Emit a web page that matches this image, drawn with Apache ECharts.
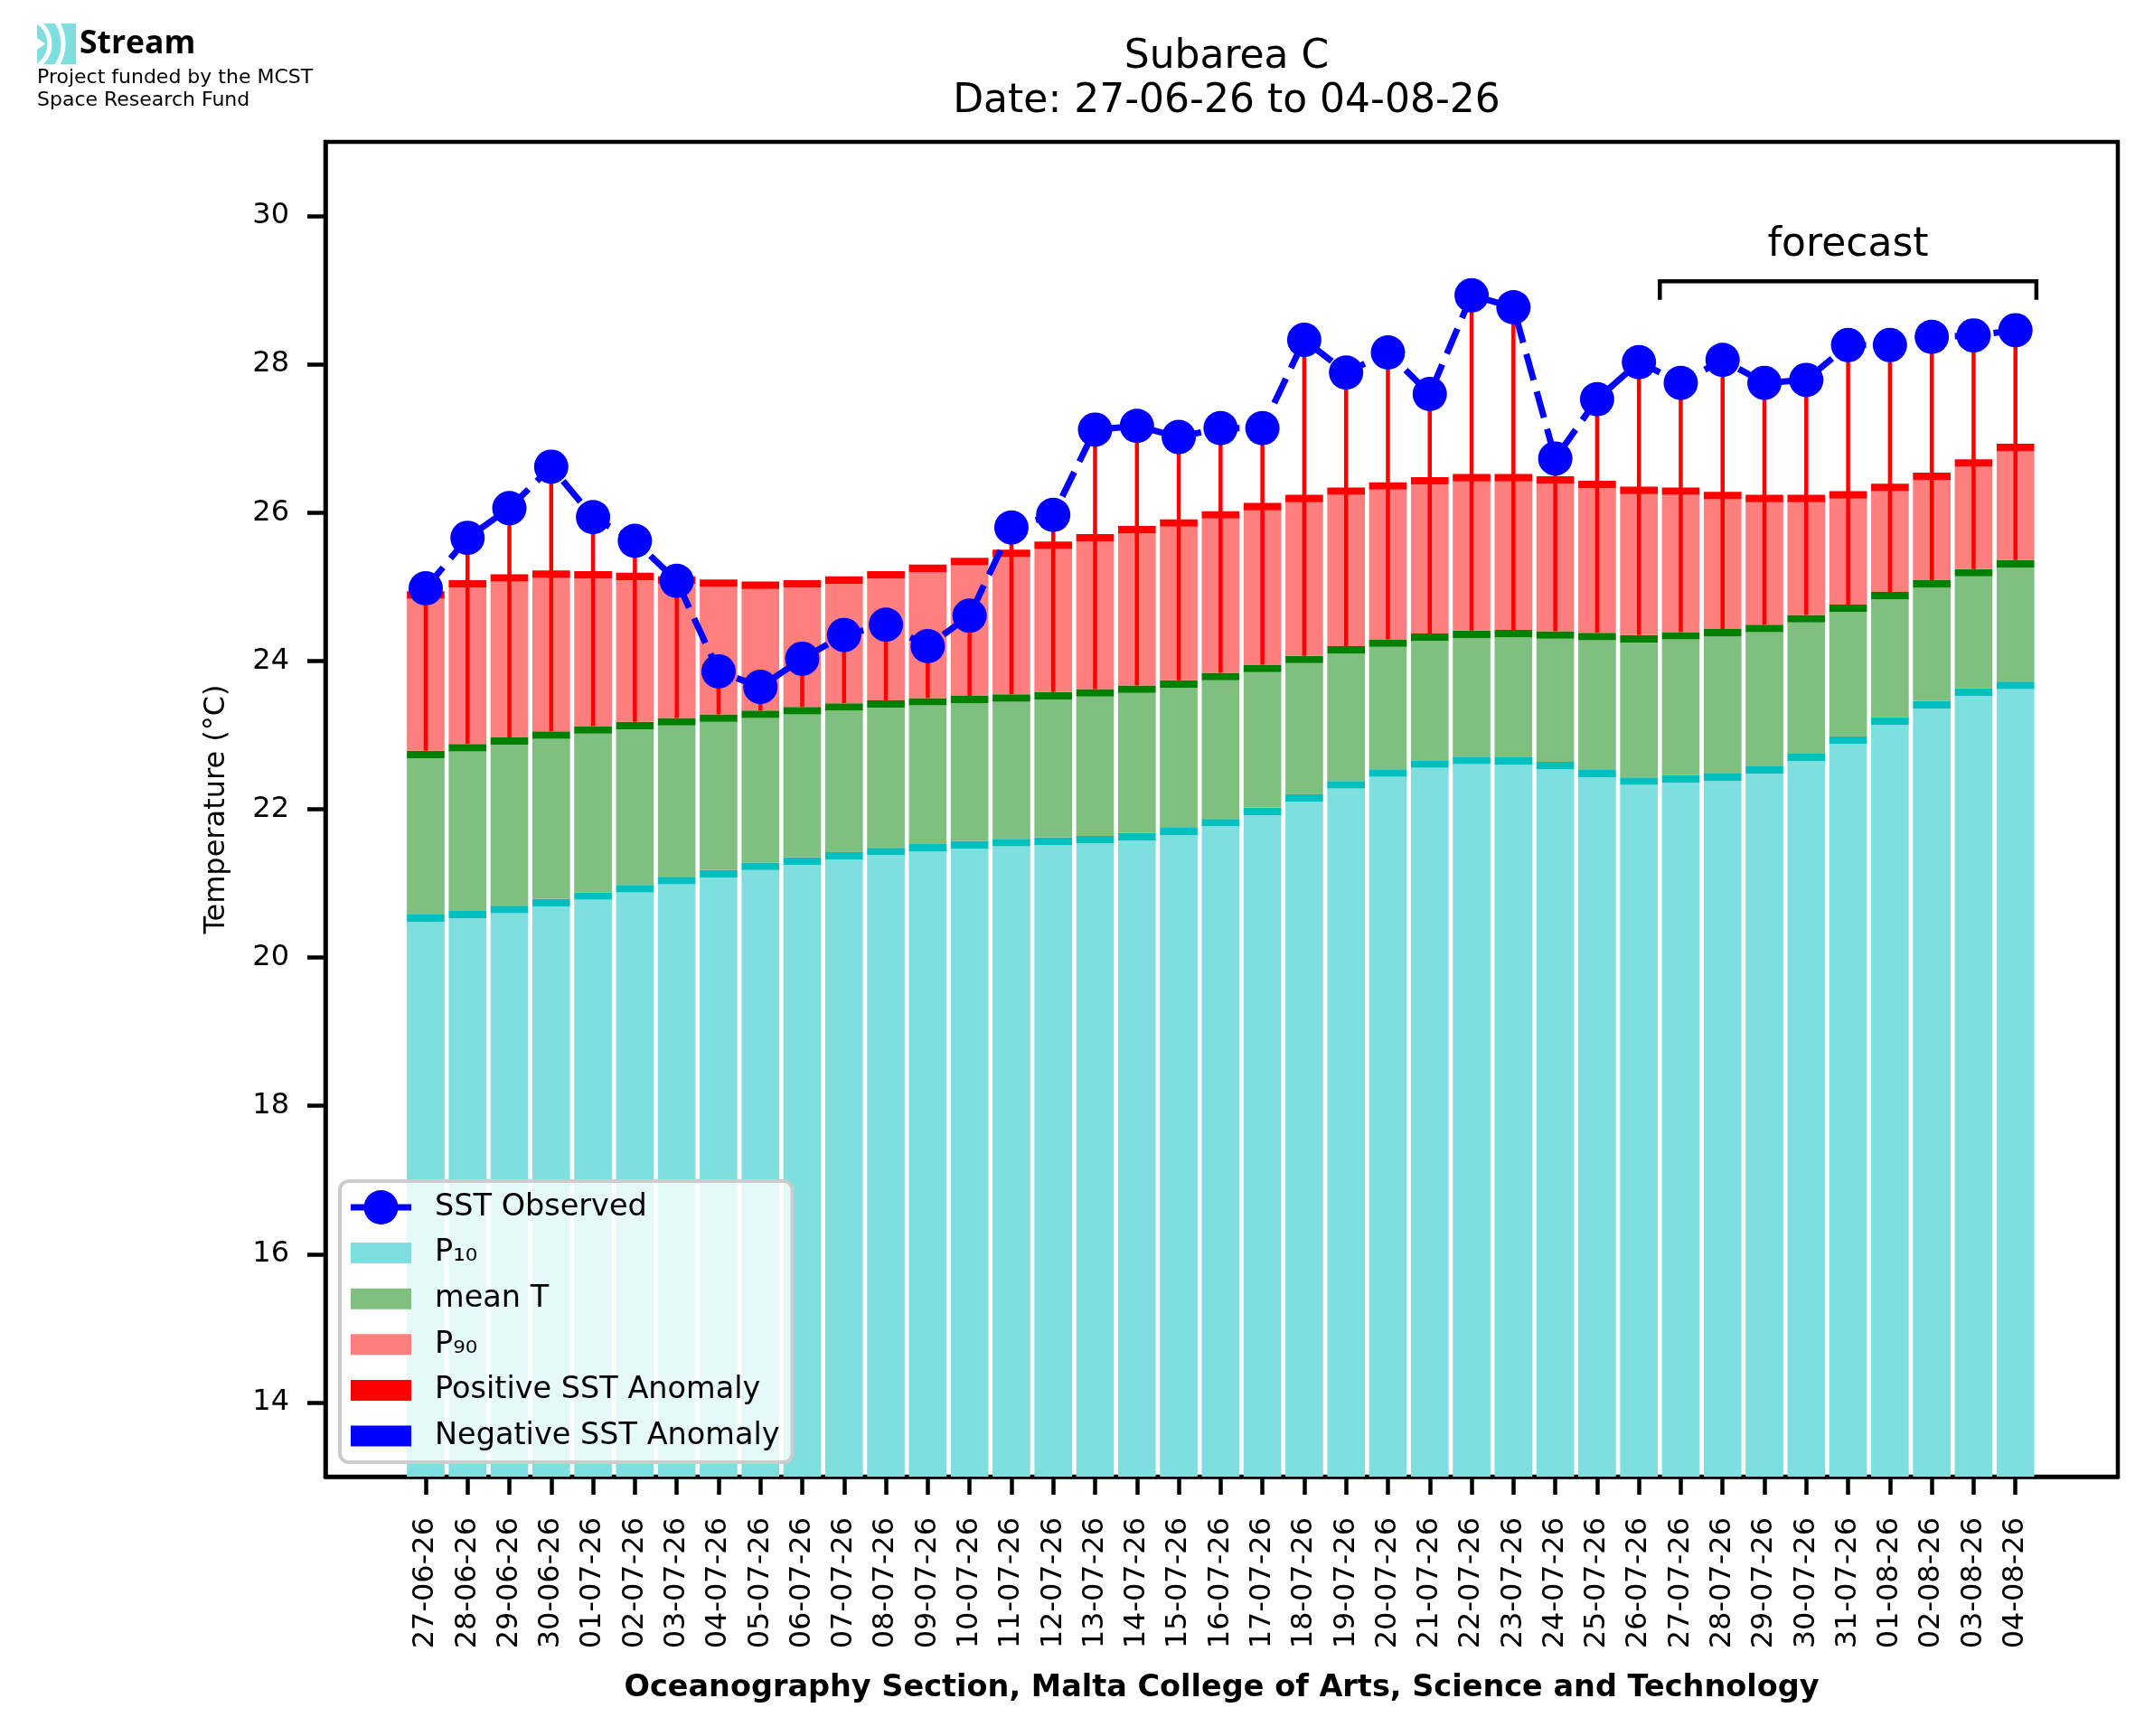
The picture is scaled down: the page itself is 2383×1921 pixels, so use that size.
<!DOCTYPE html>
<html>
<head>
<meta charset="utf-8">
<script src="https://cdn.jsdelivr.net/npm/echarts@6/dist/echarts.min.js"></script>
<style>html,body{margin:0;padding:0;background:#fff}#c{width:2383px;height:1921px}</style>
</head>
<body>
<div id="c"></div>
<script>
// ---------------- data ----------------
const dates = ['27-06-26','28-06-26','29-06-26','30-06-26','01-07-26','02-07-26','03-07-26','04-07-26','05-07-26','06-07-26',
  '07-07-26','08-07-26','09-07-26','10-07-26','11-07-26','12-07-26','13-07-26','14-07-26','15-07-26','16-07-26',
  '17-07-26','18-07-26','19-07-26','20-07-26','21-07-26','22-07-26','23-07-26','24-07-26','25-07-26','26-07-26',
  '27-07-26','28-07-26','29-07-26','30-07-26','31-07-26','01-08-26','02-08-26','03-08-26','04-08-26'];
const p10 = [20.58,20.63,20.70,20.79,20.88,20.98,21.09,21.18,21.28,21.35,21.42,21.48,21.53,21.57,21.60,21.62,21.64,
  21.68,21.75,21.87,22.02,22.20,22.38,22.54,22.66,22.71,22.70,22.64,22.53,22.43,22.46,22.48,22.58,22.75,22.98,23.24,23.46,23.63,23.72];
const meanT = [22.79,22.88,22.97,23.05,23.12,23.18,23.23,23.28,23.33,23.38,23.43,23.47,23.50,23.53,23.55,23.58,23.62,
  23.67,23.74,23.84,23.95,24.07,24.20,24.29,24.37,24.41,24.42,24.40,24.38,24.35,24.39,24.43,24.49,24.62,24.76,24.93,25.09,25.24,25.36];
const p90 = [24.94,25.09,25.17,25.22,25.21,25.19,25.14,25.10,25.07,25.09,25.14,25.21,25.30,25.39,25.50,25.61,25.71,
  25.82,25.91,26.02,26.13,26.24,26.34,26.41,26.48,26.52,26.52,26.49,26.43,26.35,26.34,26.28,26.24,26.24,26.29,26.39,26.54,26.72,26.93];
const sst = [24.98,25.66,26.06,26.62,25.94,25.62,25.08,23.86,23.65,24.03,24.35,24.49,24.20,24.61,25.80,25.97,27.12,
  27.17,27.02,27.14,27.14,28.33,27.89,28.16,27.60,28.93,28.77,26.73,27.53,28.03,27.75,28.06,27.75,27.79,28.26,28.26,28.37,28.39,28.46];
const yTicks = [14,16,18,20,22,24,26,28,30];
const forecastSpan = [29.5, 38.5];   // bracket ends (x index units)
const forecastLevel = 29.12;          // bracket height (°C)
const forecastDrop = 0.25;            // bracket end drop (°C)
const forecastTextLevel = 29.34;
const forecastText = 'forecast';
const capHeight = 0.1;                // dark top band of each bar (°C)
const barFrac = 0.9;

// ---------------- chart ----------------
const FONT = 'DejaVu Sans';
const chart = echarts.init(document.getElementById('c'), null, {renderer: 'canvas', width: 2383, height: 1921});
const Y_MIN = 13, Y_MAX = 31, X_MIN = -2.3975, X_MAX = 40.4475;

function bandRenderer(bodyColor, capColor, fromBottom) {
  return function (params, api) {
    const i = api.value(0);
    const lo = api.value(1);
    const hi = api.value(2);
    const w = api.size([1, 0])[0] * barFrac;
    const cs = params.coordSys;
    const top = api.coord([i, hi]);
    const capBottom = api.coord([i, hi - capHeight])[1];
    const yLo = fromBottom ? cs.y + cs.height : api.coord([i, lo])[1];
    const x = top[0] - w / 2;
    return {
      type: 'group',
      children: [
        {type: 'rect', shape: {x: x, y: capBottom, width: w, height: yLo - capBottom}, style: {fill: bodyColor}},
        {type: 'rect', shape: {x: x, y: top[1], width: w, height: capBottom - top[1]}, style: {fill: capColor}}
      ]
    };
  };
}
function anomalyRenderer(color) {
  return function (params, api) {
    const i = api.value(0);
    const a = api.coord([i, api.value(1)]);
    const b = api.coord([i, api.value(2)]);
    return {type: 'line', shape: {x1: a[0], y1: a[1], x2: b[0], y2: b[1]},
      style: {stroke: color, lineWidth: 4.5}};
  };
}

const idx = dates.map((d, i) => i);
const p10Data = idx.map(i => [i, Y_MIN, p10[i]]);
const meanData = idx.map(i => [i, p10[i], meanT[i]]);
const p90Data = idx.map(i => [i, meanT[i], p90[i]]);
const posData = idx.filter(i => sst[i] >= meanT[i]).map(i => [i, meanT[i], sst[i]]);
const negData = idx.filter(i => sst[i] < meanT[i]).map(i => [i, meanT[i], sst[i]]);
const sstData = idx.map(i => [i, sst[i]]);

const rectIcon = 'path://M0,0M0,7.5L67,7.5L67,30.5L0,30.5ZM67,38';
const lineIcon = 'path://M0,15.5L67,15.5L67,22.5L0,22.5ZM14.5,19A19,19,0,1,1,52.5,19A19,19,0,1,1,14.5,19ZM0,0M67,38';

const option = {
  backgroundColor: '#ffffff',
  animation: false,
  textStyle: {fontFamily: FONT},
  title: {
    text: 'Subarea C\nDate: 27-06-26 to 04-08-26',
    left: 1352, top: 34, textAlign: 'center',
    textStyle: {fontFamily: FONT, fontSize: 44, fontWeight: 'normal', color: '#000', lineHeight: 49}
  },
  grid: {left: 360, right: 40, top: 157, bottom: 287, show: true, borderColor: '#000', borderWidth: 4.5, backgroundColor: 'transparent'},
  legend: {
    orient: 'vertical', left: 376, top: 1307,
    data: [
      {name: 'SST Observed', icon: lineIcon, lineStyle: {type: 'solid', width: 0}},
      {name: 'P₁₀', icon: rectIcon},
      {name: 'mean T', icon: rectIcon},
      {name: 'P₉₀', icon: rectIcon},
      {name: 'Positive SST Anomaly', icon: rectIcon},
      {name: 'Negative SST Anomaly', icon: rectIcon}
    ],
    itemWidth: 67, itemHeight: 38, itemGap: 12.6,
    padding: [10, 14, 10, 12],
    backgroundColor: 'rgba(255,255,255,0.8)',
    borderColor: '#cccccc', borderWidth: 4, borderRadius: 10,
    selectedMode: false,
    textStyle: {fontFamily: FONT, fontSize: 33.5, color: '#000', lineHeight: 38, padding: [0, 0, 0, 21]}
  },
  xAxis: {
    type: 'value', min: X_MIN, max: X_MAX,
    name: 'Oceanography Section, Malta College of Arts, Science and Technology',
    nameLocation: 'middle', nameGap: 217,
    nameTextStyle: {fontFamily: FONT, fontSize: 33.5, fontWeight: 'bold', color: '#000'},
    axisLine: {show: true, onZero: false, lineStyle: {color: '#000', width: 4.5}},
    axisTick: {show: true, length: 20, lineStyle: {color: '#000', width: 4.5}, customValues: idx},
    axisLabel: {show: true, rotate: 90, margin: 45, fontFamily: FONT, fontSize: 32, color: '#000',
      customValues: idx, formatter: v => dates[Math.round(v)]},
    splitLine: {show: false}
  },
  yAxis: {
    type: 'value', min: Y_MIN, max: Y_MAX,
    name: 'Temperature (°C)', nameLocation: 'middle', nameGap: 104,
    nameTextStyle: {fontFamily: FONT, fontSize: 32, color: '#000'},
    axisLine: {show: true, onZero: false, lineStyle: {color: '#000', width: 4.5}},
    axisTick: {show: true, length: 20, lineStyle: {color: '#000', width: 4.5}, customValues: yTicks},
    axisLabel: {show: true, margin: 40, fontFamily: FONT, fontSize: 32, color: '#000', customValues: yTicks},
    splitLine: {show: false}
  },
  series: [
    {name: 'P₁₀', type: 'custom', clip: true, itemStyle: {color: '#7fdfdf'}, data: p10Data,
      renderItem: bandRenderer('#7fdfdf', '#00bfbf', true), z: 2},
    {name: 'mean T', type: 'custom', clip: true, itemStyle: {color: '#7fbf7f'}, data: meanData,
      renderItem: bandRenderer('#7fbf7f', '#008000', false), z: 2},
    {name: 'P₉₀', type: 'custom', clip: true, itemStyle: {color: '#ff7f7f'}, data: p90Data,
      renderItem: bandRenderer('#ff7f7f', '#ff0000', false), z: 2},
    {name: 'Positive SST Anomaly', type: 'custom', clip: true, itemStyle: {color: '#ff0000'}, data: posData,
      renderItem: anomalyRenderer('#ff0000'), z: 3},
    {name: 'Negative SST Anomaly', type: 'custom', clip: true, itemStyle: {color: '#0000ff'}, data: negData,
      renderItem: anomalyRenderer('#0000ff'), z: 3},
    {name: 'SST Observed', type: 'line', data: sstData, z: 4,
      symbol: 'circle', symbolSize: 38, showSymbol: true,
      itemStyle: {color: '#0000ff'},
      lineStyle: {color: '#0000ff', width: 7, type: [30, 13]}},
    {name: 'forecastBracket', type: 'custom', silent: true, z: 5,
      data: [[forecastSpan[0], forecastSpan[1], forecastLevel, forecastDrop, forecastTextLevel]],
      renderItem: function (params, api) {
        const x0 = api.value(0), x1 = api.value(1), y = api.value(2), d = api.value(3), ty = api.value(4);
        const p0 = api.coord([x0, y - d]), p1 = api.coord([x0, y]), p2 = api.coord([x1, y]), p3 = api.coord([x1, y - d]);
        const pt = api.coord([(x0 + x1) / 2, ty]);
        return {type: 'group', children: [
          {type: 'polyline', shape: {points: [p0, p1, p2, p3]}, style: {stroke: '#000', lineWidth: 4.5, fill: null}},
          {type: 'text', x: pt[0], y: pt[1], style: {text: forecastText, fontFamily: FONT, fontSize: 44,
            fill: '#000', align: 'center', verticalAlign: 'bottom'}}
        ]};
      }}
  ],
  graphic: [
    {type: 'rect', shape: {x: 41, y: 26, width: 43, height: 45}, style: {fill: '#7fdfdf'}},
    {type: 'arc', shape: {cx: 26, cy: 48.5, r: 29, startAngle: -Math.PI / 2, endAngle: Math.PI / 2}, style: {stroke: '#fff', lineWidth: 5, fill: null}},
    {type: 'arc', shape: {cx: 26, cy: 48.5, r: 44, startAngle: -Math.PI / 2, endAngle: Math.PI / 2}, style: {stroke: '#fff', lineWidth: 5, fill: null}},
    {type: 'polygon', shape: {points: [[41, 42], [50, 48.5], [41, 55]]}, style: {fill: '#fff'}},
    {type: 'text', x: 88, y: 49, style: {text: 'Stream', fontFamily: 'Open Sans', fontWeight: 'bold', fontSize: 35.5, fill: '#000', verticalAlign: 'middle'}},
    {type: 'text', x: 41, y: 86, style: {text: 'Project funded by the MCST', fontFamily: FONT, fontSize: 22, fill: '#000', verticalAlign: 'middle'}},
    {type: 'text', x: 41, y: 111, style: {text: 'Space Research Fund', fontFamily: FONT, fontSize: 22, fill: '#000', verticalAlign: 'middle'}}
  ]
};
chart.setOption(option);
</script>
</body>
</html>
